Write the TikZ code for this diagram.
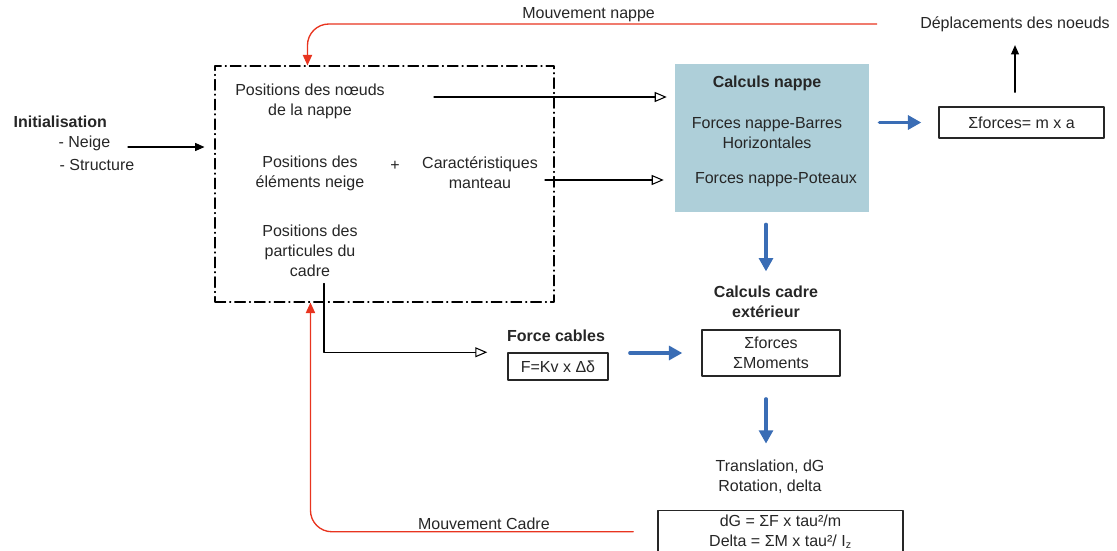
\documentclass[tikz,border=0pt]{standalone}
\usepackage{fontspec}
\setmainfont{Liberation Sans}
\usetikzlibrary{arrows.meta,fit}
\definecolor{rougeflux}{HTML}{E8341F}
\definecolor{bleueflux}{HTML}{3A6DB5}
\definecolor{fondnappe}{HTML}{AECFD9}
\begin{document}
\begin{tikzpicture}[x=0.75pt, y=-0.75pt, line cap=round, line join=round,
    txt/.style={align=center, inner sep=1pt, text=black!85, font=\fontsize{12}{15}\selectfont},
    gras/.style={txt, font=\fontsize{12}{15}\selectfont\bfseries},
    boite/.style={txt, draw=black!85, line width=1.1pt, inner sep=3pt},
    fleche/.style={line width=0.8pt, -{Triangle[length=7pt,width=6pt]}},
    ouverte/.style={line width=0.8pt, -{Triangle[open,length=9pt,width=7.5pt,fill=white]}},
    bleue/.style={bleueflux, line width=2.3pt, -{Triangle[length=10pt,width=10.5pt]}},
    rouge/.style={rougeflux, line width=1pt, rounded corners=16pt, -{Triangle[length=8pt,width=7pt]}},
    cadre/.style={draw, line width=0.8pt, dash pattern=on 8pt off 3pt on 0.8pt off 3pt, inner sep=0pt}]
  \useasboundingbox (0,0) rectangle (1117,550);
  \node[gras, anchor=west] (init) at (12,122) {Initialisation};
  \node[txt, anchor=west] (neige) at (57,143) {- Neige};
  \node[txt, anchor=west] (structure) at (58,165) {- Structure};
  \node[cadre, fit={(215,66) (554,302)}] (entree) {};
  \node[txt] (noeuds) at (310,101) {Positions des nœuds\\de la nappe};
  \node[txt] (elements) at (310,173) {Positions des\\éléments neige};
  \node[txt] (plus) at (395,166) {+};
  \node[txt] (carac) at (480,173) {Caractéristiques\\manteau};
  \node[txt] (particules) at (310,251) {Positions des\\particules du\\cadre};
  \node[fill=fondnappe, inner sep=0pt, fit={(675,64) (869,212)}] (nappe) {};
  \node[gras] (nappetitre) at (767,83) {Calculs nappe};
  \node[txt] (barres) at (767,133) {Forces nappe-Barres\\Horizontales};
  \node[txt] (poteaux) at (776,180) {Forces nappe-Poteaux};
  \node[boite, minimum width=123.75pt, minimum height=23.25pt] (somme) at (1021.5,122.5) {Σforces= m x a};
  \node[txt] (depl) at (1015,24) {Déplacements des noeuds};
  \node[gras] (cablestitre) at (556,336) {Force cables};
  \node[boite, minimum width=75pt, minimum height=20.25pt] (kv) at (558,366.5) {F=Kv x Δδ};
  \node[gras] (cadretitre) at (766,301.5) {Calculs cadre\\extérieur};
  \node[boite, minimum width=103.5pt, minimum height=34.5pt] (moments) at (771,353) {Σforces\\ΣMoments};
  \node[txt] (transl) at (770,477) {Translation, dG\\Rotation, delta};
  \node[boite, minimum width=183.75pt, minimum height=31.5pt, anchor=north] (formules) at (780.5,510) {dG = ΣF x tau²/m\\Delta = ΣM x tau²/ I\textsubscript{z}};
  \coordinate (initout) at (128,147);
  \coordinate (noeudsout) at (434,97);
  \coordinate (caracout) at (545,180);
  \draw[fleche, shorten >=7.5pt] (initout) -- (initout -| entree.west);
  \draw[ouverte, shorten >=6pt] (noeudsout) -- (noeudsout -| nappe.west);
  \draw[ouverte, shorten >=8.25pt] (caracout) -- (caracout -| nappe.west);
  \draw[ouverte, shorten <=3.75pt, shorten >=15pt] ([xshift=10.5pt]particules.south) |- (kv.north west);
  \draw[bleue, shorten <=7.5pt, shorten >=12.75pt] (nappe.east |- somme.west) -- (somme.west);
  \draw[fleche, shorten <=10.5pt, shorten >=9pt] (depl.south |- somme.north) -- (depl.south);
  \draw[bleue, shorten <=9pt, shorten >=9.5pt] (nappe.south -| cadretitre) -- (cadretitre.north);
  \draw[bleue, shorten <=15.75pt, shorten >=14.25pt] (moments.west -| kv.east) -- (moments.west);
  \draw[bleue, shorten <=16.5pt, shorten >=11.25pt] (moments.south -| cadretitre) -- (transl.north -| cadretitre);
  \draw[rouge, shorten <=31.5pt] (depl.west) -| ([xshift=69.75pt]entree.north west) node[txt, pos=0.27, above] (nappelabel) {Mouvement nappe};
  \draw[rouge, shorten <=18pt] (formules.west) -| ([xshift=72pt]entree.south west) node[txt, pos=0.25, above] (cadrelabel) {Mouvement Cadre};
\end{tikzpicture}
\end{document}
